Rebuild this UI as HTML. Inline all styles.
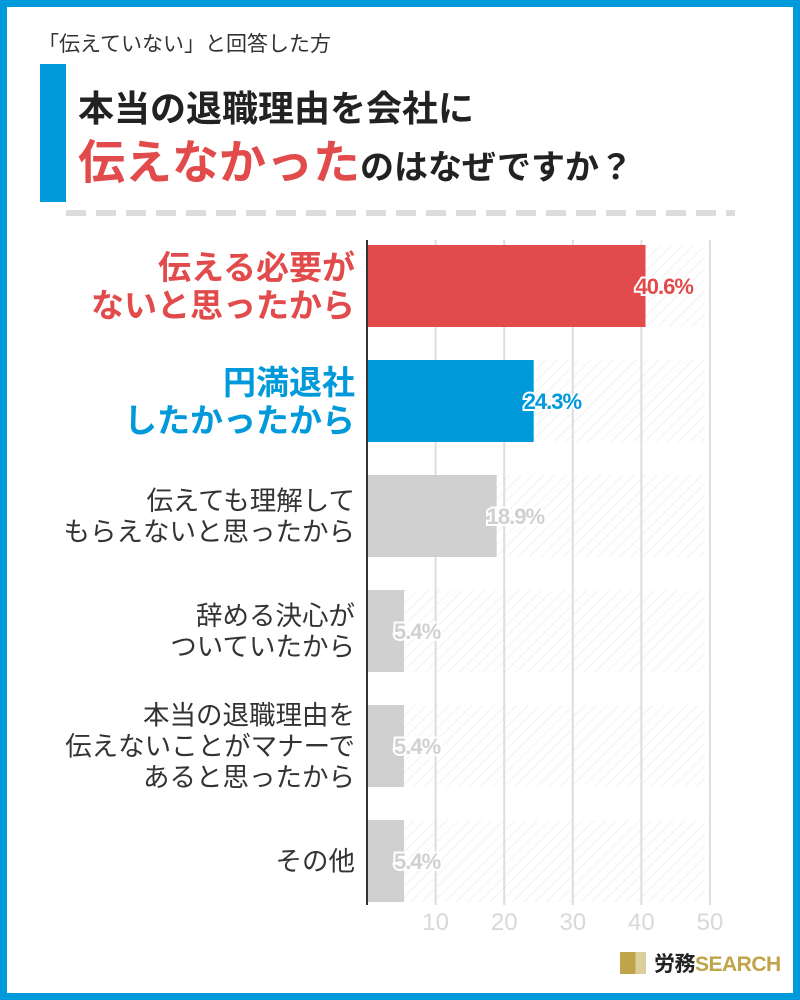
<!DOCTYPE html>
<html><head><meta charset="utf-8"><style>
body{margin:0;width:800px;height:1000px;overflow:hidden;background:#fff;font-family:"Liberation Sans","Noto Sans CJK JP",sans-serif}
#frame{position:absolute;left:0;top:0;width:786px;height:986px;border:7px solid #0099da}
.t{position:absolute;white-space:nowrap}
</style></head><body>
<div id="frame"></div>
<div class="t" style="left:38px;top:28px;font-size:21px;color:#333">「伝えていない」と回答した方</div>
<div style="position:absolute;left:40px;top:64px;width:26px;height:138px;background:#0099da"></div>
<div class="t" style="left:78px;top:80px;font-size:36px;font-weight:bold;color:#222">本当の退職理由を会社に</div>
<div class="t" style="left:78px;top:124px;font-weight:bold;color:#222;font-size:34px"><span style="color:#e24b4b;font-size:47px">伝えなかった</span>のはなぜですか？</div>
<svg style="position:absolute;left:0;top:0" width="800" height="230"><line x1="66" y1="213" x2="735" y2="213" stroke="#ddd" stroke-width="6" stroke-dasharray="20,10"/></svg>
<svg id="chart" style="position:absolute;left:0;top:0" width="800" height="1000">
<defs><pattern id="hatch" width="8" height="8" patternUnits="userSpaceOnUse" patternTransform="rotate(45)"><line x1="0" y1="0" x2="0" y2="8" stroke="#e6e6e6" stroke-width="1"/></pattern></defs>
</svg>
<div class="t" style="left:620px;top:948px;font-size:21px;font-weight:bold;color:#222;letter-spacing:-0.5px"><span style="display:inline-block;width:26px;height:22px;background:linear-gradient(90deg,#c0a44a 60%,#dccf9d 60%);vertical-align:-3px;margin-right:8px"></span>労務<span style="color:#c0a44a">SEARCH</span></div>
<script>
const categories=["伝える必要が|ないと思ったから","円満退社|したかったから","伝えても理解して|もらえないと思ったから","辞める決心が|ついていたから","本当の退職理由を|伝えないことがマナーで|あると思ったから","その他"];
const values=[40.6,24.3,18.9,5.4,5.4,5.4];
const ticks=[10,20,30,40,50];
const colors=["#e24b4b","#0099da","#d0d0d0","#d0d0d0","#d0d0d0","#d0d0d0"];
const labelColors=["#e24b4b","#0099da","#333","#333","#333","#333"];
const valColors=["#e24b4b","#0099da","#d0d0d0","#d0d0d0","#d0d0d0","#d0d0d0"];
const svg=document.getElementById('chart');const NS='http://www.w3.org/2000/svg';
const x0=367,xs=6.86;const X=v=>x0+v*xs;const rowTop=i=>245+i*115;const bh=82;
function mk(t,a){const e=document.createElementNS(NS,t);for(const k in a)e.setAttribute(k,a[k]);svg.appendChild(e);return e;}
categories.forEach((c,i)=>{const r=mk('rect',{x:x0,y:rowTop(i),width:X(50)-x0-5,height:bh,fill:'url(#hatch)'});

});
ticks.forEach(t=>{const l=mk('line',{x1:X(t),y1:240,x2:X(t),y2:905,stroke:'#ddd','stroke-width':2});


const tx=mk('text',{x:X(t),y:930,'text-anchor':'middle','font-size':24,fill:'#d8d8d8','font-family':'Liberation Sans, sans-serif'});tx.textContent=t;

});
categories.forEach((c,i)=>{const y=rowTop(i);
const b=mk('rect',{x:x0,y:y,width:X(values[i])-x0,height:bh,fill:colors[i]});


const v=mk('text',{x:X(values[i])-10,y:y+bh/2+8,'font-size':22,'font-weight':'bold',fill:valColors[i],stroke:'#fff','stroke-width':4,'paint-order':'stroke','font-family':'Liberation Sans, sans-serif','letter-spacing':'-1'});v.textContent=values[i].toFixed(1)+'%';


const lines=c.split('|');const big=i<2;const fs=big?33:26.5;const lh=big?38:31;const st=y+bh/2-(lines.length-1)*lh/2+fs*0.36;
const tx=mk('text',{'text-anchor':'end','font-size':fs,'font-weight':big?'bold':'normal',fill:labelColors[i],'font-family':'Liberation Sans, Noto Sans CJK JP, sans-serif'});


lines.forEach((s,j)=>{const ts=document.createElementNS(NS,'tspan');ts.setAttribute('x',355);ts.setAttribute('y',st+j*lh);ts.textContent=s;tx.appendChild(ts);});});
const ax=mk('line',{x1:x0,y1:240,x2:x0,y2:905,stroke:'#333','stroke-width':2});


</script>
</body></html>
